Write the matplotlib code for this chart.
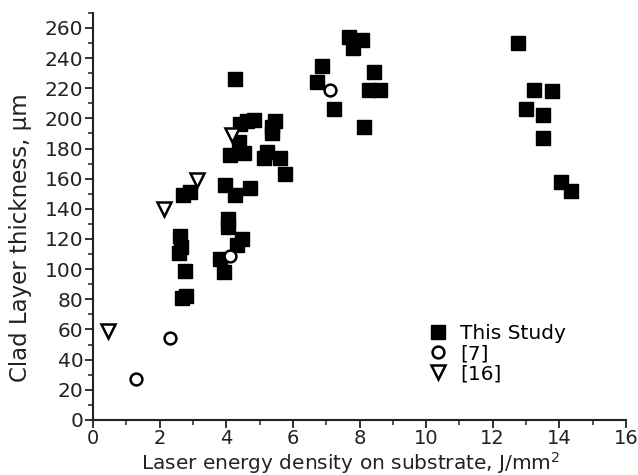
import matplotlib
matplotlib.use("Agg")
import matplotlib.pyplot as plt
from matplotlib.ticker import MultipleLocator

# This Study (filled squares)
study_x = [2.70, 2.90, 2.62, 2.65, 2.57, 2.77, 2.80, 2.67,
           3.82, 3.92, 4.06, 4.06, 4.47, 4.32, 3.97, 4.27, 4.72, 4.12, 4.52, 4.37,
           4.42, 4.62, 4.82, 4.26, 5.22, 5.12, 5.62, 5.77, 5.47, 5.37, 5.37,
           6.73, 6.87, 7.23, 7.68, 8.07, 7.80, 8.43, 8.28, 8.63, 8.13,
           12.76, 13.24, 13.77, 13.01, 13.51, 13.51, 14.05, 14.35]
study_y = [149, 151, 122, 115, 111, 99, 82, 81,
           107, 98, 133, 128, 120, 116, 156, 149, 154, 176, 177, 184,
           196, 198, 199, 226, 178, 174, 174, 163, 198, 194, 190,
           224, 235, 206, 254, 252, 247, 231, 219, 219, 194,
           250, 219, 218, 206, 202, 187, 158, 152]

# [7] (open circles)
ref7_x = [1.29, 2.30, 4.10, 7.11]
ref7_y = [27, 54, 109, 219]

# [16] (open down triangles)
ref16_x = [0.44, 2.12, 3.12, 4.17]
ref16_y = [59, 140, 159, 189]

x_label = "Laser energy density on substrate, J/mm$^2$"
y_label = "Clad Layer thickness, μm"
legend_labels = ["This Study", "[7]", "[16]"]

plt.rcParams['font.family'] = ['DejaVu Sans']
plt.rcParams['mathtext.default'] = 'regular'
fig = plt.figure(figsize=(6.38, 4.75), dpi=100)
ax = fig.add_axes([0.146, 0.116, 0.835, 0.857])

ax.plot(study_x, study_y, linestyle='none', marker='s', markersize=9.5,
        color='black', label=legend_labels[0], zorder=3)
ax.plot(ref7_x, ref7_y, linestyle='none', marker='o', markersize=8.5,
        markerfacecolor='white', markeredgecolor='black', markeredgewidth=1.8,
        label=legend_labels[1], zorder=4)
ax.plot(ref16_x, ref16_y, linestyle='none', marker='v', markersize=10,
        markerfacecolor='white', markeredgecolor='black', markeredgewidth=1.8,
        label=legend_labels[2], zorder=4)

ax.set_xlim(0, 16)
ax.set_ylim(0, 270)
ax.xaxis.set_major_locator(MultipleLocator(2))
ax.xaxis.set_minor_locator(MultipleLocator(1))
ax.yaxis.set_minor_locator(MultipleLocator(10))
ax.set_yticks(range(0, 261, 20))

for s in ['top', 'right']:
    ax.spines[s].set_visible(False)
for s in ['left', 'bottom']:
    ax.spines[s].set_linewidth(1.5)
    ax.spines[s].set_color('#222222')

ax.tick_params(which='major', direction='out', length=5.5, width=1.3,
               labelsize=14.5, colors='#222222', pad=1.5)
ax.tick_params(axis='x', which='major', labelsize=14, pad=1)
ax.tick_params(which='minor', direction='out', length=3.5, width=1.1, colors='#222222')

ax.set_xlabel(x_label, fontsize=14.5, color='#222222')
ax.set_ylabel(y_label, fontsize=16.5, color='#222222')
ax.xaxis.set_label_coords(0.483, -0.073)
ax.yaxis.set_label_coords(-0.115, 0.447)

ax.legend(loc='upper left', bbox_to_anchor=(0.61, 0.255), frameon=False,
          fontsize=14.5, handletextpad=0.5, labelspacing=0.05, borderaxespad=0,
          handlelength=1.2)

fig.savefig('out.png', dpi=100)
